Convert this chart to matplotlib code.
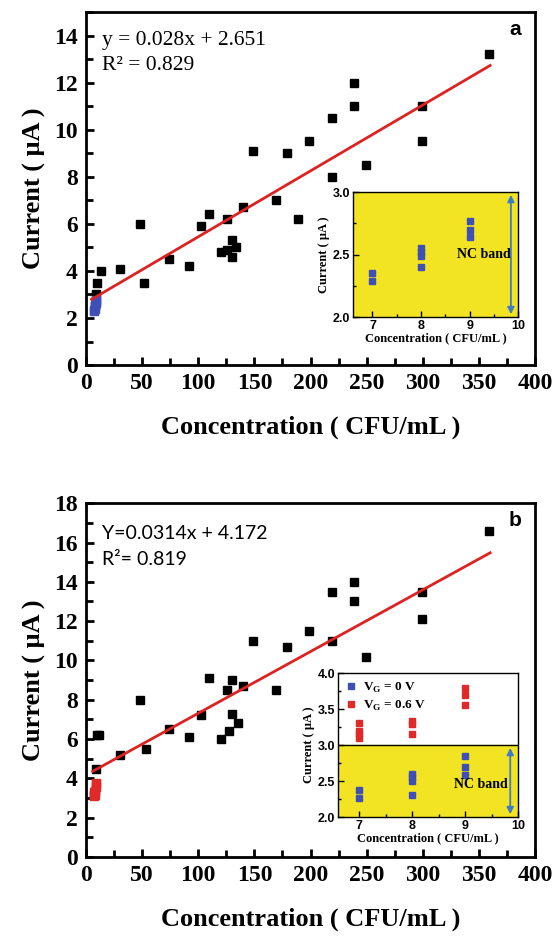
import numpy as np
import matplotlib
matplotlib.use("Agg")
import matplotlib.pyplot as plt
from matplotlib.ticker import MultipleLocator

plt.rcParams['font.family'] = ['Liberation Serif', 'DejaVu Serif']

# panel a : black squares (concentration, current)
a_x = [359, 239, 239, 299, 299, 219, 199, 179, 149, 249, 219, 169, 189, 140, 110, 102,
       126, 48, 120, 126, 130, 130, 134, 74, 92, 30, 52, 13, 9.5, 8.5]
a_y = [13.2, 12.0, 11.0, 11.0, 9.5, 10.5, 9.5, 9.0, 9.1, 8.5, 8.0, 7.0, 6.2, 6.7, 6.4, 5.9,
       6.2, 6.0, 4.8, 4.9, 5.3, 4.6, 5.0, 4.5, 4.2, 4.1, 3.5, 4.0, 3.5, 3.0]
a_slope, a_icpt = 0.028, 2.651
a_fit_x = [5, 360]

# panel a inset (NC band, blue)
ia_x = [7, 7, 8, 8, 8, 8, 9, 9, 9]
ia_y = [2.29, 2.35, 2.40, 2.49, 2.52, 2.55, 2.64, 2.70, 2.77]

# panel b : black squares
b_x = [359, 239, 239, 219, 299, 299, 199, 219, 149, 179, 249, 110, 130, 126, 140, 169,
       48, 130, 102, 135, 74, 92, 127, 120, 10, 12, 30, 53, 8.7]
b_y = [16.6, 14.0, 13.0, 13.5, 13.5, 12.1, 11.5, 11.0, 11.0, 10.7, 10.2, 9.1, 9.0, 8.5, 8.7, 8.5,
       8.0, 7.3, 7.2, 6.8, 6.5, 6.1, 6.4, 6.0, 6.2, 6.2, 5.2, 5.5, 4.5]
b_slope, b_icpt = 0.0314, 4.172
b_fit_x = [6, 360]

# panel b inset
ib_blue_x = [7, 7, 8, 8, 8, 8, 9, 9, 9]
ib_blue_y = [2.26, 2.37, 2.30, 2.50, 2.55, 2.60, 2.58, 2.70, 2.85]
ib_red_x = [7, 7, 7, 7, 8, 8, 8, 9, 9, 9]
ib_red_y = [3.10, 3.15, 3.19, 3.30, 3.16, 3.29, 3.34, 3.56, 3.70, 3.79]

BLUE = '#3f4fb8'
RED = '#e02a2a'
YELLOW = '#f2e422'
ARROW = '#3d7cc9'
LINE = '#dd2222'


def style_main(ax, ymax):
    ax.set_xlim(0, 400)
    ax.set_ylim(0, ymax)
    ax.xaxis.set_major_locator(MultipleLocator(50))
    ax.xaxis.set_minor_locator(MultipleLocator(25))
    ax.yaxis.set_major_locator(MultipleLocator(2))
    ax.yaxis.set_minor_locator(MultipleLocator(1))
    ax.tick_params(which='both', direction='in', top=False, right=False, width=2)
    ax.tick_params(which='major', length=6, labelsize=17, pad=6)
    ax.tick_params(which='minor', length=5)
    for lab in ax.get_xticklabels() + ax.get_yticklabels():
        lab.set_fontweight('bold')
    for s in ax.spines.values():
        s.set_linewidth(2)
    ax.set_xlabel('Concentration ( CFU/mL )', fontsize=19, fontweight='bold', labelpad=15)
    ax.set_ylabel('Current ( μA )', fontsize=19, fontweight='bold', labelpad=6)


def style_inset(ax, ymin, ymax):
    ax.set_xlim(6.6, 10)
    ax.set_ylim(ymin, ymax)
    ax.xaxis.set_major_locator(MultipleLocator(1))
    ax.xaxis.set_minor_locator(MultipleLocator(0.5))
    ax.yaxis.set_major_locator(MultipleLocator(0.5))
    ax.yaxis.set_minor_locator(MultipleLocator(0.25))
    ax.tick_params(which='both', direction='in', top=False, right=False, width=1)
    ax.tick_params(which='major', length=4, labelsize=9, pad=2)
    ax.tick_params(which='minor', length=2.5)
    for lab in ax.get_xticklabels() + ax.get_yticklabels():
        lab.set_fontweight('bold')
        lab.set_family(['Liberation Sans', 'DejaVu Sans'])
    ax.set_xlabel('Concentration ( CFU/mL )', fontsize=9, fontweight='bold', labelpad=0)
    ax.set_ylabel('Current ( μA )', fontsize=9, fontweight='bold', labelpad=2)
    for s in ax.spines.values():
        s.set_linewidth(1)


fig = plt.figure(figsize=(5.56, 9.36), dpi=100)

# ---------- panel a ----------
ax1 = fig.add_axes([0.1547, 0.610, 0.8076, 0.3771])
ax1.plot(a_x, a_y, 's', color='black', ms=5.8, zorder=3)
ax1.plot(ia_x, ia_y, 's', color=BLUE, ms=5.8, zorder=3)
fx = np.array(a_fit_x)
ax1.plot(fx, a_slope * fx + a_icpt, color=LINE, lw=2, zorder=4)
style_main(ax1, 15)
ax1.text(0.036, 0.92, 'y = 0.028x + 2.651', transform=ax1.transAxes, fontsize=15.5, va='center')
ax1.text(0.036, 0.848, 'R² = 0.829', transform=ax1.transAxes, fontsize=15.5, va='center')
ax1.text(0.955, 0.95, 'a', transform=ax1.transAxes, fontsize=15, fontweight='bold',
         family=['Liberation Sans', 'DejaVu Sans'], ha='center', va='center')

in1 = fig.add_axes([0.635, 0.6613, 0.297, 0.1335])
in1.set_facecolor(YELLOW)
in1.plot(ia_x, ia_y, 's', color=BLUE, ms=4)
in1.annotate('', xy=(9.85, 2.0), xytext=(9.85, 3.0),
             arrowprops=dict(arrowstyle='<|-|>', color=ARROW, lw=1.3, mutation_scale=10))
in1.text(9.3, 2.5, 'NC band', fontsize=10, fontweight='bold', ha='center', va='center')
style_inset(in1, 2.0, 3.0)

# ---------- panel b ----------
ax2 = fig.add_axes([0.1547, 0.0844, 0.8076, 0.378])
ax2.plot(b_x, b_y, 's', color='black', ms=5.8, zorder=3)
ax2.plot(ib_red_x, ib_red_y, 's', color=RED, ms=5.8, zorder=3)
fx = np.array(b_fit_x)
ax2.plot(fx, b_slope * fx + b_icpt, color=LINE, lw=2, zorder=4)
style_main(ax2, 18)
ax2.text(0.036, 0.915, 'Y=0.0314x + 4.172', transform=ax2.transAxes, fontsize=14, va='center',
         family=['Lato', 'DejaVu Sans'])
ax2.text(0.036, 0.84, 'R²= 0.819', transform=ax2.transAxes, fontsize=14, va='center',
         family=['Lato', 'DejaVu Sans'])
ax2.text(0.955, 0.95, 'b', transform=ax2.transAxes, fontsize=15, fontweight='bold',
         family=['Liberation Sans', 'DejaVu Sans'], ha='center', va='center')

in2 = fig.add_axes([0.608, 0.1271, 0.324, 0.1538])
in2.axhspan(2.0, 3.0, color=YELLOW, zorder=0)
in2.axhline(3.0, color='black', lw=1, zorder=1)
in2.plot(ib_blue_x, ib_blue_y, 's', color=BLUE, ms=4, label='V$_\\mathregular{G}$ = 0 V', zorder=3)
in2.plot(ib_red_x, ib_red_y, 's', color=RED, ms=4, label='V$_\\mathregular{G}$ = 0.6 V', zorder=3)
in2.annotate('', xy=(9.85, 2.0), xytext=(9.85, 3.0),
             arrowprops=dict(arrowstyle='<|-|>', color=ARROW, lw=1.3, mutation_scale=10))
in2.text(9.3, 2.45, 'NC band', fontsize=10, fontweight='bold', ha='center', va='center')
style_inset(in2, 2.0, 4.0)
in2.legend(loc='upper left', frameon=False, handlelength=0.8, handletextpad=0.5,
           borderaxespad=0.2, labelspacing=0.3, prop={'weight': 'bold', 'size': 9.5})

fig.savefig('out.png', dpi=100)
